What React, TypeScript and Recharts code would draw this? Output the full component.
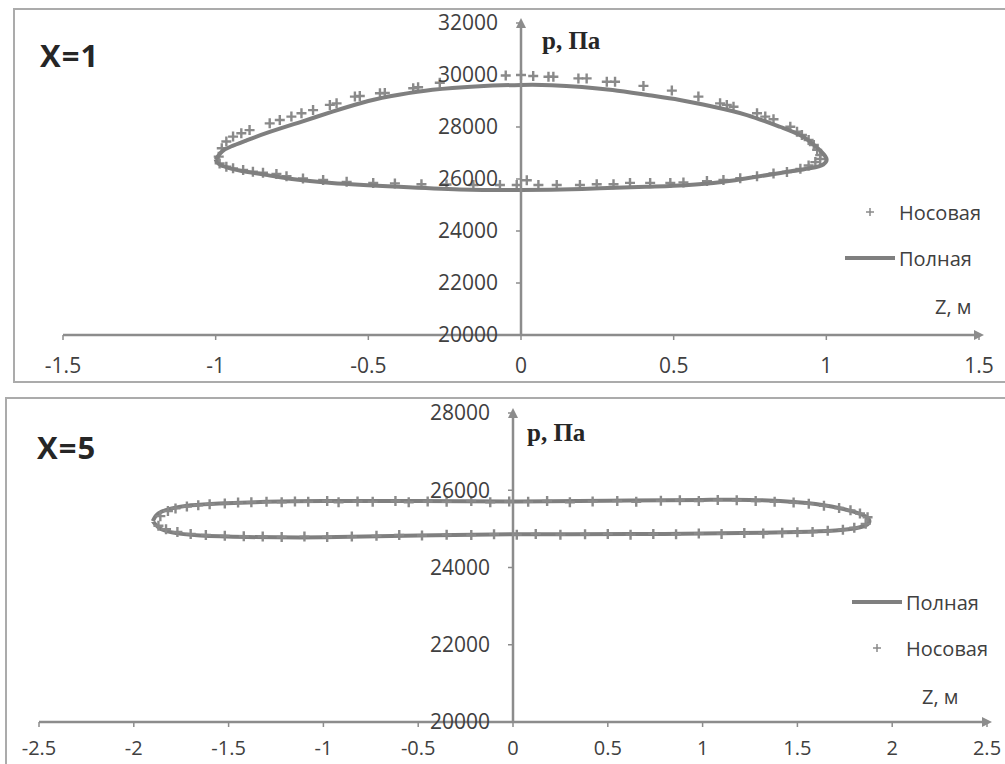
import React from "react";
import { ScatterChart, Scatter, XAxis, YAxis, Legend } from "recharts";

// ---- X = 1 ----
// Полная: closed loop, upper branch left -> right, then lower branch back
const fullZ1 = [-1.0, -0.98, -0.95, -0.9, -0.83, -0.72, -0.62, -0.5, -0.4, -0.29, -0.15, 0, 0.1, 0.2, 0.3, 0.42, 0.52, 0.63, 0.74, 0.85, 0.92, 0.97, 1.0, 0.99, 0.95, 0.85, 0.74, 0.63, 0.5, 0.41, 0.2, 0, -0.2, -0.4, -0.62, -0.75, -0.83, -0.9, -0.95, -0.99, -1.0];
const fullP1 = [26750, 27050, 27250, 27480, 27780, 28200, 28580, 29000, 29240, 29430, 29560, 29620, 29610, 29540, 29420, 29220, 29040, 28780, 28460, 28000, 27650, 27200, 26800, 26560, 26420, 26230, 26030, 25850, 25740, 25700, 25620, 25580, 25600, 25700, 25850, 26000, 26150, 26280, 26400, 26580, 26750];

// Носовая, upper side
const noseUpZ1 = [-0.99, -0.98, -0.965, -0.943, -0.916, -0.889, -0.823, -0.79, -0.752, -0.719, -0.681, -0.626, -0.604, -0.544, -0.528, -0.462, -0.446, -0.353, -0.337, -0.266, -0.05, 0, 0.04, 0.09, 0.106, 0.188, 0.215, 0.281, 0.308, 0.401, 0.494, 0.581, 0.652, 0.674, 0.696, 0.773, 0.8, 0.827, 0.882, 0.904, 0.92, 0.942, 0.959, 0.97, 0.98];
const noseUpP1 = [26860, 27180, 27440, 27630, 27760, 27880, 28140, 28270, 28400, 28530, 28650, 28850, 28910, 29170, 29190, 29300, 29310, 29490, 29530, 29700, 29980, 30000, 29960, 29930, 29930, 29870, 29870, 29740, 29740, 29580, 29400, 29170, 28910, 28850, 28780, 28530, 28400, 28300, 28010, 27820, 27690, 27500, 27310, 27120, 26920];
// Носовая, lower side
const noseLoZ1 = [-0.987, -0.965, -0.943, -0.91, -0.878, -0.845, -0.801, -0.768, -0.714, -0.648, -0.571, -0.484, -0.413, -0.326, -0.244, -0.156, -0.069, -0.014, 0.019, 0.057, 0.117, 0.193, 0.248, 0.303, 0.357, 0.423, 0.489, 0.532, 0.609, 0.663, 0.718, 0.773, 0.827, 0.871, 0.915, 0.942, 0.964, 0.98];
const noseLoP1 = [26600, 26470, 26410, 26350, 26280, 26240, 26190, 26110, 26020, 25960, 25890, 25850, 25830, 25800, 25790, 25770, 25770, 25770, 25950, 25770, 25770, 25770, 25800, 25800, 25850, 25850, 25850, 25870, 25920, 25960, 26030, 26110, 26210, 26270, 26390, 26520, 26650, 26770];

// ---- X = 5 ----
const fullZ5 = [-1.9, -1.87, -1.8, -1.7, -1.55, -1.3, -1.0, -0.5, 0, 0.5, 1.0, 1.25, 1.5, 1.68, 1.8, 1.86, 1.88, 1.86, 1.8, 1.7, 1.5, 1.2, 0.8, 0.3, 0, -0.5, -1.0, -1.4, -1.65, -1.8, -1.87, -1.9];
const fullP5 = [25200, 25400, 25530, 25610, 25660, 25700, 25720, 25720, 25710, 25730, 25750, 25750, 25690, 25580, 25440, 25320, 25200, 25090, 25010, 24960, 24920, 24890, 24870, 24860, 24860, 24830, 24780, 24790, 24830, 24910, 25040, 25200];

const noseUpZ5 = [-1.86, -1.82, -1.78, -1.72, -1.66, -1.6, -1.52, -1.45, -1.38, -1.3, -1.22, -1.15, -1.08, -0.98, -0.92, -0.82, -0.74, -0.62, -0.55, -0.45, -0.35, -0.22, -0.12, -0.02, 0.08, 0.18, 0.3, 0.42, 0.55, 0.65, 0.78, 0.88, 0.98, 1.08, 1.18, 1.28, 1.38, 1.48, 1.56, 1.64, 1.72, 1.78, 1.83, 1.87];
const noseUpP5 = [25330, 25460, 25530, 25580, 25610, 25640, 25660, 25680, 25690, 25700, 25690, 25710, 25700, 25720, 25690, 25710, 25700, 25720, 25690, 25710, 25700, 25720, 25690, 25710, 25700, 25720, 25690, 25710, 25720, 25700, 25730, 25740, 25720, 25750, 25740, 25720, 25700, 25680, 25650, 25600, 25540, 25480, 25400, 25300];
const noseLoZ5 = [1.86, 1.8, 1.74, 1.66, 1.58, 1.5, 1.42, 1.32, 1.22, 1.1, 0.98, 0.86, 0.74, 0.62, 0.5, 0.38, 0.25, 0.12, 0.02, -0.1, -0.22, -0.35, -0.48, -0.6, -0.72, -0.85, -0.98, -1.1, -1.22, -1.32, -1.42, -1.52, -1.62, -1.7, -1.77, -1.83, -1.87];
const noseLoP5 = [25130, 25030, 24980, 24950, 24920, 24910, 24900, 24880, 24890, 24870, 24880, 24860, 24870, 24850, 24870, 24860, 24850, 24870, 24850, 24860, 24840, 24850, 24830, 24840, 24820, 24800, 24790, 24800, 24790, 24800, 24810, 24820, 24840, 24870, 24920, 24990, 25080];

const zTicks1 = [-1.5, -1, -0.5, 0, 0.5, 1, 1.5];
const pTicks1 = [20000, 22000, 24000, 26000, 28000, 30000, 32000];
const zTicks5 = [-2.5, -2, -1.5, -1, -0.5, 0, 0.5, 1, 1.5, 2, 2.5];
const pTicks5 = [20000, 22000, 24000, 26000, 28000];

// legend order as in each panel
const legendOrder1 = ["Носовая", "Полная"];
const legendOrder5 = ["Полная", "Носовая"];

const toPoints = (z: number[], p: number[]) => z.map((v, i) => ({ z: v, p: p[i] }));

const full1 = toPoints(fullZ1, fullP1);
const nose1 = [...toPoints(noseUpZ1, noseUpP1), ...toPoints(noseLoZ1, noseLoP1)];
const full5 = toPoints(fullZ5, fullP5);
const nose5 = [...toPoints(noseUpZ5, noseUpP5), ...toPoints(noseLoZ5, noseLoP5)];

const FONT = "'Open Sans', 'Noto Sans', sans-serif";
const TEXT = "#404040";
const AXIS = "#8c8c8c";
const LINE = "#7f7f7f";
const MARK = "#8a8a8a";
const BORDER = "#ababab";

const tickStyle = { fill: TEXT, fontSize: 21, fontFamily: FONT };
const tickStyleLow = { fill: TEXT, fontSize: 20, fontFamily: FONT };

function Cross(props: any) {
  const { cx, cy } = props;
  if (cx == null || cy == null) return <g />;
  return (
    <path
      d={`M${cx - 5},${cy}H${cx + 5}M${cx},${cy - 5}V${cy + 5}`}
      stroke={MARK}
      strokeWidth={2.4}
      fill="none"
    />
  );
}

const makeLegend = (order: string[]) => ({ payload }: any) => {
  const items = [...(payload ?? [])].sort(
    (a: any, b: any) => order.indexOf(a.value) - order.indexOf(b.value)
  );
  return (
    <div style={{ fontFamily: FONT, fontSize: 20, color: TEXT }}>
      {items.map((entry: any) => (
        <div key={entry.value} style={{ display: "flex", alignItems: "center", height: 46 }}>
          <svg width={50} height={20}>
            {entry.type === "line" ? (
              <line x1={0} y1={10} x2={50} y2={10} stroke={LINE} strokeWidth={4} />
            ) : (
              <path d="M21,10H29M25,6V14" stroke={MARK} strokeWidth={1.5} fill="none" />
            )}
          </svg>
          <span style={{ marginLeft: 4 }}>{entry.value}</span>
        </div>
      ))}
    </div>
  );
};

function Arrow({ id }: { id: string }) {
  return (
    <defs>
      <marker id={id} viewBox="0 0 10 10" refX={5} refY={5} markerWidth={4} markerHeight={4} orient="auto-start-reverse">
        <path d="M0,0L10,5L0,10z" fill={AXIS} />
      </marker>
    </defs>
  );
}

function Label({ left, cy, children, style }: any) {
  return (
    <div
      style={{
        position: "absolute",
        left,
        top: cy,
        transform: "translateY(-50%)",
        lineHeight: 1,
        whiteSpace: "nowrap",
        ...style,
      }}
    >
      {children}
    </div>
  );
}

const titleStyle = { fontFamily: FONT, fontWeight: 700, fontSize: 31, color: "#262626", letterSpacing: 1 };
const pStyle = { fontFamily: "'Liberation Serif', serif", fontWeight: 700, fontSize: 25, color: "#262626" };
const zStyle = { fontFamily: FONT, fontSize: 20, color: TEXT };

export default function App() {
  return (
    <div style={{ position: "absolute", left: 0, top: 0, width: 1005, height: 764, background: "#fff", overflow: "hidden" }}>
      {/* panel frames */}
      <div style={{ position: "absolute", left: 13, top: 8, width: 1000, height: 371, borderTop: `2px solid ${BORDER}`, borderLeft: `2px solid ${BORDER}`, borderBottom: `2px solid ${BORDER}` }} />
      <div style={{ position: "absolute", left: 5, top: 397, width: 1010, height: 400, borderTop: `2px solid ${BORDER}`, borderLeft: `2px solid ${BORDER}` }} />

      {/* X = 1 */}
      <div style={{ position: "absolute", left: 0, top: 0 }}>
        <ScatterChart width={1005} height={390} margin={{ top: 23, right: 26, bottom: 15, left: 63 }}>
          <Arrow id="arrowX1" />
          <XAxis
            type="number"
            dataKey="z"
            domain={[-1.5, 1.5]}
            ticks={zTicks1}
            interval={0}
            height={40}
            allowDataOverflow
            axisLine={{ stroke: AXIS, strokeWidth: 2.5, markerEnd: "url(#arrowX1)" }}
            tickLine={{ stroke: AXIS, strokeWidth: 1.5 }}
            tickSize={5}
            tickMargin={18}
            tick={tickStyle}
          />
          <YAxis type="number" dataKey="p" domain={[20000, 32000]} hide allowDataOverflow />
          <Legend
            layout="vertical"
            align="center"
            verticalAlign="middle"
            wrapperStyle={{ left: 845, top: 189, width: 160 }}
            content={makeLegend(legendOrder1)}
          />
          <Scatter name="Носовая" data={nose1} legendType="cross" shape={Cross} isAnimationActive={false} />
          <Scatter
            name="Полная"
            data={full1}
            legendType="line"
            line={{ stroke: LINE, strokeWidth: 4 }}
            lineJointType="natural"
            shape={() => <g />}
            isAnimationActive={false}
          />
        </ScatterChart>
      </div>
      {/* vertical axis of X = 1, crossing at Z = 0 */}
      <div style={{ position: "absolute", left: 431, top: 0 }}>
        <ScatterChart width={100} height={390} margin={{ top: 23, right: 10, bottom: 55, left: 0 }}>
          <Arrow id="arrowY1" />
          <XAxis type="number" dataKey="z" domain={[-1.5, 1.5]} hide />
          <YAxis
            type="number"
            dataKey="p"
            domain={[20000, 32000]}
            ticks={pTicks1}
            interval={0}
            width={90}
            axisLine={{ stroke: AXIS, strokeWidth: 2.5, markerStart: "url(#arrowY1)" }}
            tickLine={{ stroke: AXIS, strokeWidth: 1.5 }}
            tickSize={5}
            tickMargin={18}
            tick={tickStyle}
          />
          <Scatter data={full1} fill="none" legendType="none" isAnimationActive={false} />
        </ScatterChart>
      </div>

      {/* X = 5 */}
      <div style={{ position: "absolute", left: 0, top: 390 }}>
        <ScatterChart width={1005} height={374} margin={{ top: 23, right: 18, bottom: 2, left: 39 }}>
          <Arrow id="arrowX5" />
          <XAxis
            type="number"
            dataKey="z"
            domain={[-2.5, 2.5]}
            ticks={zTicks5}
            interval={0}
            height={40}
            allowDataOverflow
            axisLine={{ stroke: AXIS, strokeWidth: 2.5, markerEnd: "url(#arrowX5)" }}
            tickLine={{ stroke: AXIS, strokeWidth: 1.5 }}
            tickSize={5}
            tickMargin={14}
            tick={tickStyleLow}
          />
          <YAxis type="number" dataKey="p" domain={[20000, 28000]} hide allowDataOverflow />
          <Legend
            layout="vertical"
            align="center"
            verticalAlign="middle"
            wrapperStyle={{ left: 852, top: 189, width: 160 }}
            content={makeLegend(legendOrder5)}
          />
          <Scatter
            name="Полная"
            data={full5}
            legendType="line"
            line={{ stroke: LINE, strokeWidth: 4 }}
            lineJointType="natural"
            shape={() => <g />}
            isAnimationActive={false}
          />
          <Scatter name="Носовая" data={nose5} legendType="cross" shape={Cross} isAnimationActive={false} />
        </ScatterChart>
      </div>
      {/* vertical axis of X = 5 */}
      <div style={{ position: "absolute", left: 423, top: 390 }}>
        <ScatterChart width={100} height={374} margin={{ top: 23, right: 10, bottom: 42, left: 0 }}>
          <Arrow id="arrowY5" />
          <XAxis type="number" dataKey="z" domain={[-2.5, 2.5]} hide />
          <YAxis
            type="number"
            dataKey="p"
            domain={[20000, 28000]}
            ticks={pTicks5}
            interval={0}
            width={90}
            axisLine={{ stroke: AXIS, strokeWidth: 2.5, markerStart: "url(#arrowY5)" }}
            tickLine={{ stroke: AXIS, strokeWidth: 1.5 }}
            tickSize={5}
            tickMargin={18}
            tick={tickStyle}
          />
          <Scatter data={full5} fill="none" legendType="none" isAnimationActive={false} />
        </ScatterChart>
      </div>

      <Label left={40} cy={55} style={titleStyle}>X=1</Label>
      <Label left={37} cy={447} style={titleStyle}>X=5</Label>
      <Label left={542} cy={40} style={pStyle}>p, Па</Label>
      <Label left={527} cy={432} style={pStyle}>p, Па</Label>
      <Label left={935} cy={307} style={zStyle}>Z, м</Label>
      <Label left={922} cy={697} style={zStyle}>Z, м</Label>
    </div>
  );
}
